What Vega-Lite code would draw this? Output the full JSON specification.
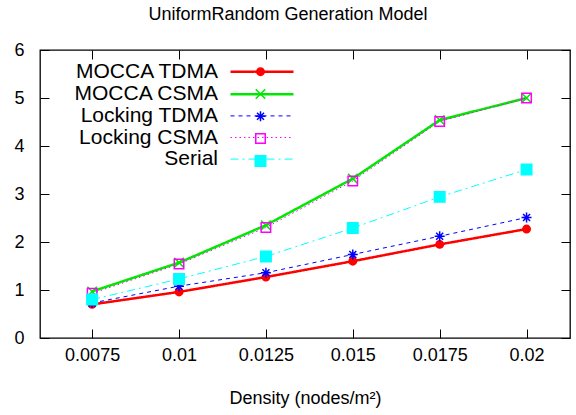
{
  "$schema": "https://vega.github.io/schema/vega-lite/v6.json",
  "autosize": {"type": "none"},
  "padding": {"left": 40, "top": 50, "right": 6, "bottom": 77},
  "width": 530,
  "height": 288,
  "background": "white",
  "config": {
    "font": "Liberation Sans",
    "view": {"stroke": "black", "strokeWidth": 1.3},
    "axis": {"labelFont": "Liberation Sans", "titleFont": "Liberation Sans", "labelColor": "black", "titleColor": "black", "tickColor": "black", "grid": false, "domain": false},
    "legend": {"labelFont": "Liberation Sans", "labelColor": "black"}
  },
  "title": {"text": "UniformRandom Generation Model", "fontSize": 18, "fontWeight": "normal", "font": "Liberation Sans", "color": "black", "dx": -17, "offset": 17},
  "data": {"values": [
    {"density": 0.0075, "value": 0.70, "series": "MOCCA TDMA"},
    {"density": 0.01, "value": 0.96, "series": "MOCCA TDMA"},
    {"density": 0.0125, "value": 1.27, "series": "MOCCA TDMA"},
    {"density": 0.015, "value": 1.60, "series": "MOCCA TDMA"},
    {"density": 0.0175, "value": 1.95, "series": "MOCCA TDMA"},
    {"density": 0.02, "value": 2.27, "series": "MOCCA TDMA"},
    {"density": 0.0075, "value": 0.97, "series": "MOCCA CSMA"},
    {"density": 0.01, "value": 1.57, "series": "MOCCA CSMA"},
    {"density": 0.0125, "value": 2.35, "series": "MOCCA CSMA"},
    {"density": 0.015, "value": 3.32, "series": "MOCCA CSMA"},
    {"density": 0.0175, "value": 4.54, "series": "MOCCA CSMA"},
    {"density": 0.02, "value": 5.00, "series": "MOCCA CSMA"},
    {"density": 0.0075, "value": 0.73, "series": "Locking TDMA"},
    {"density": 0.01, "value": 1.08, "series": "Locking TDMA"},
    {"density": 0.0125, "value": 1.36, "series": "Locking TDMA"},
    {"density": 0.015, "value": 1.74, "series": "Locking TDMA"},
    {"density": 0.0175, "value": 2.12, "series": "Locking TDMA"},
    {"density": 0.02, "value": 2.51, "series": "Locking TDMA"},
    {"density": 0.0075, "value": 0.93, "series": "Locking CSMA"},
    {"density": 0.01, "value": 1.54, "series": "Locking CSMA"},
    {"density": 0.0125, "value": 2.30, "series": "Locking CSMA"},
    {"density": 0.015, "value": 3.27, "series": "Locking CSMA"},
    {"density": 0.0175, "value": 4.51, "series": "Locking CSMA"},
    {"density": 0.02, "value": 5.00, "series": "Locking CSMA"},
    {"density": 0.0075, "value": 0.80, "series": "Serial"},
    {"density": 0.01, "value": 1.23, "series": "Serial"},
    {"density": 0.0125, "value": 1.70, "series": "Serial"},
    {"density": 0.015, "value": 2.29, "series": "Serial"},
    {"density": 0.0175, "value": 2.94, "series": "Serial"},
    {"density": 0.02, "value": 3.51, "series": "Serial"}
  ]},
  "layer": [
    {
      "mark": {"type": "line", "clip": true},
      "encoding": {
        "x": {"field": "density", "type": "quantitative", "scale": {"domain": [0.006, 0.02125], "nice": false, "zero": false},
              "axis": {"orient": "bottom", "values": [0.0075, 0.01, 0.0125, 0.015, 0.0175, 0.02], "format": ".4~f", "labelFontSize": 18, "tickSize": -9, "labelPadding": 17, "title": "Density (nodes/m²)", "titleFontSize": 18, "titleFontWeight": "normal", "titlePadding": 25, "labelFlush": false}},
        "y": {"field": "value", "type": "quantitative", "scale": {"domain": [0, 6], "nice": false},
              "axis": {"orient": "left", "values": [0, 1, 2, 3, 4, 5, 6], "labelFontSize": 18, "tickSize": -9, "labelPadding": 25, "title": null, "labelFlush": false}},
        "color": {"field": "series", "type": "nominal",
                  "scale": {"domain": ["MOCCA TDMA", "MOCCA CSMA", "Locking TDMA", "Locking CSMA", "Serial"], "range": ["#ff0000", "#00e800", "#0000ff", "#ff00ff", "#00ffff"]},
                  "legend": {"orient": "none", "legendX": 188, "legendY": 9.7, "title": null, "labelFontSize": 21, "labelAlign": "right", "labelOffset": -56, "symbolOffset": 22, "rowPadding": 0.6, "symbolType": "M-3,0L3,0", "symbolSize": 441,
                             "values": ["MOCCA TDMA", "MOCCA CSMA", "Locking TDMA", "Locking CSMA", "Serial"]}},
        "strokeDash": {"field": "series", "type": "nominal",
                  "scale": {"domain": ["MOCCA TDMA", "MOCCA CSMA", "Locking TDMA", "Locking CSMA", "Serial"], "range": [[1, 0], [1, 0], [4, 4], [1.5, 3], [8, 4, 2, 4]]}},
        "strokeWidth": {"field": "series", "type": "nominal",
                  "scale": {"type": "ordinal", "domain": ["MOCCA TDMA", "MOCCA CSMA", "Locking TDMA", "Locking CSMA", "Serial"], "range": [2.5, 2.5, 1, 1, 1]}}
      }
    },
    {
      "mark": {"type": "point", "filled": true, "opacity": 1, "strokeWidth": 1.5},
      "encoding": {
        "x": {"field": "density", "type": "quantitative",
              "axis": {"orient": "top", "values": [0.0075, 0.01, 0.0125, 0.015, 0.0175, 0.02], "labels": false, "tickSize": -9, "title": null}},
        "y": {"field": "value", "type": "quantitative",
              "axis": {"orient": "right", "values": [0, 1, 2, 3, 4, 5, 6], "labels": false, "tickSize": -9, "title": null}},
        "shape": {"field": "series", "type": "nominal",
                  "scale": {"domain": ["Serial", "Locking CSMA", "Locking TDMA", "MOCCA CSMA", "MOCCA TDMA"],
                            "range": ["square", "square", "M-1,0L1,0M0,-1L0,1M-0.7,-0.7L0.7,0.7M-0.7,0.7L0.7,-0.7", "M-1,-1L1,1M-1,1L1,-1", "circle"]},
                  "legend": {"orient": "none", "legendX": 188, "legendY": 10.7, "title": null, "labelFontSize": 21, "labelExpr": "''", "clipHeight": 22, "rowPadding": 0.3, "symbolOffset": 22, "symbolStrokeWidth": 1.5,
                             "values": ["MOCCA TDMA", "MOCCA CSMA", "Locking TDMA", "Locking CSMA", "Serial"]}},
        "stroke": {"field": "series", "type": "nominal",
                  "scale": {"domain": ["Serial", "Locking CSMA", "Locking TDMA", "MOCCA CSMA", "MOCCA TDMA"], "range": ["#00ffff", "#ff00ff", "#0000ff", "#00e800", "#ff0000"]}},
        "fill": {"field": "series", "type": "nominal",
                  "scale": {"domain": ["Serial", "Locking CSMA", "Locking TDMA", "MOCCA CSMA", "MOCCA TDMA"], "range": ["#00ffff", "transparent", "transparent", "transparent", "#ff0000"]}},
        "size": {"field": "series", "type": "nominal",
                  "scale": {"type": "ordinal", "domain": ["Serial", "Locking CSMA", "Locking TDMA", "MOCCA CSMA", "MOCCA TDMA"], "range": [110, 90, 100, 90, 55]}}
      }
    }
  ],
  "resolve": {"axis": {"x": "independent", "y": "independent"}}
}
